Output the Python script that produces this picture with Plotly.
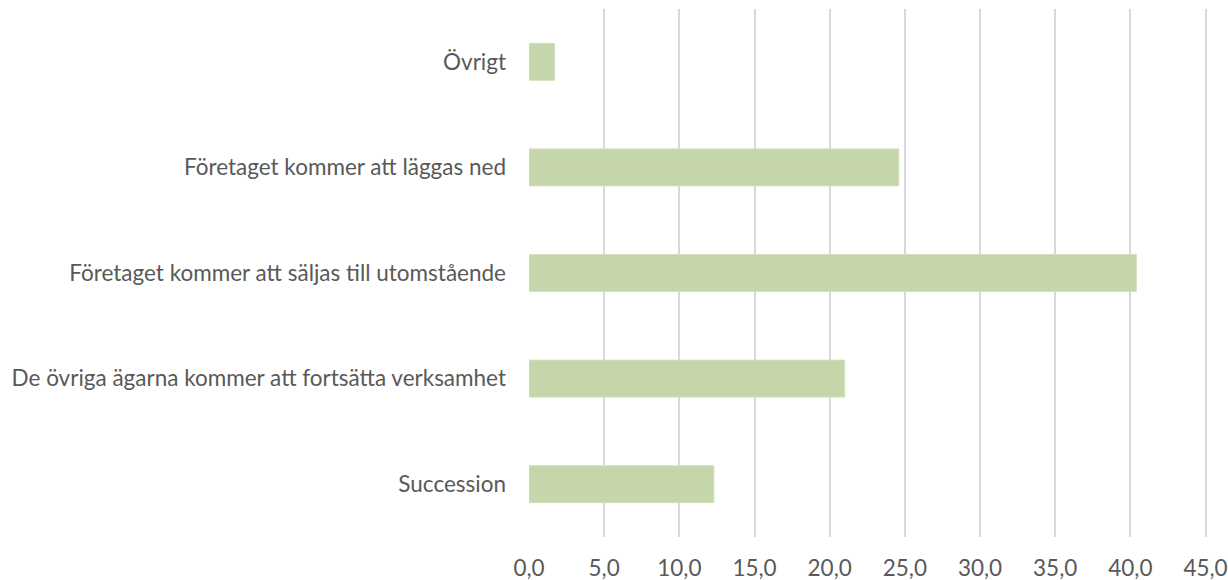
import plotly.graph_objects as go

categories = [
    'Succession',
    'De övriga ägarna kommer att fortsätta verksamhet',
    'Företaget kommer att säljas till utomstående',
    'Företaget kommer att läggas ned',
    'Övrigt',
]
values = [12.3, 21.0, 40.4, 24.6, 1.7]
x_ticks = [0, 5, 10, 15, 20, 25, 30, 35, 40, 45]

grey = '#595959'
font_family = 'Lato, Noto Sans, sans-serif'

fig = go.Figure()
fig.add_trace(go.Bar(
    x=values,
    y=categories,
    orientation='h',
    marker=dict(color='#c5d6aa', line=dict(color='#d3e0bd', width=1)),
    hoverinfo='x+y',
))

fig.update_layout(
    width=1228, height=580,
    margin=dict(l=529, r=21, t=9, b=43),
    paper_bgcolor='white',
    plot_bgcolor='white',
    bargap=0.65,
    separators=',.',
    showlegend=False,
    font=dict(family=font_family, size=22.5, color=grey),
)
# range a hair past 45 so the last gridline is still drawn
fig.update_xaxes(
    range=[0, 45.1],
    tickvals=x_ticks,
    tickformat='.1f',
    automargin=False,
    ticklabeloverflow='allow',
    showgrid=True, gridcolor='#d9d9d9', gridwidth=1.5,
    zeroline=False, showline=False,
    ticks='', ticklabelstandoff=15,
    tickfont=dict(family=font_family, size=22.5, color=grey),
)
fig.update_yaxes(
    automargin=False,
    showgrid=False, zeroline=False, showline=False,
    ticks='', ticklabelstandoff=22,
    tickfont=dict(family=font_family, size=22.5, color=grey),
)

# drop the browser's default body margin so the figure sits at the page corner
fig.write_html('out.html', config={'displayModeBar': False},
               post_script="document.body.style.margin='0';")
